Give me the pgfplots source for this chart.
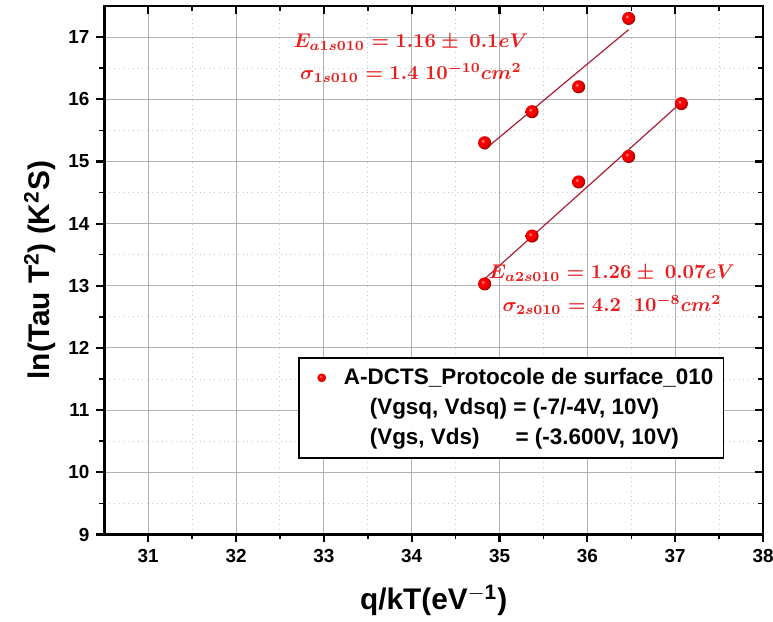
\documentclass[border=0pt]{standalone}
\usepackage{pgfplots}
\pgfplotsset{compat=1.18}
\usepackage{fontspec}
\setmainfont{Liberation Sans}

\definecolor{ptred}{RGB}{232,30,30}
\definecolor{fitred}{RGB}{170,30,50}

\pgfdeclareradialshading{redball}{\pgfqpoint{-8bp}{8bp}}{%
  color(0bp)=(red!25!white); color(7bp)=(red); color(19bp)=(red!95!black);
  color(25bp)=(red!65!black); color(50bp)=(red!65!black)}
\pgfdeclareplotmark{redball}{%
  \pgfpathcircle{\pgfpointorigin}{\pgfplotmarksize}%
  \pgfshadepath{redball}{0}%
  \pgfusepath{discard}}

\pgfplotstableread{
x y
34.83 15.30
35.37 15.80
35.90 16.20
36.47 17.30
}\datatop
\pgfplotstableread{
x y
34.83 13.03
35.37 13.80
35.90 14.67
36.47 15.08
37.07 15.93
}\databot

\begin{document}
\begin{tikzpicture}
\pgfplotsset{
  base/.style={
    scale only axis,
    width=331.5pt, height=266pt,
    xmin=30.5, xmax=38, ymin=9, ymax=17.5,
    xtick={31,...,38}, ytick={9,...,17},
    minor tick num=1,
    axis line style={line width=1.3pt},
    major tick style={line width=1.1pt, black},
    minor tick style={line width=0.8pt, black},
    major tick length=4pt, minor tick length=2.5pt,
  },
}
\begin{axis}[base, name=main,
    xtick pos=left, ytick pos=left, tick align=outside,
    grid=both,
    major grid style={gray!60, line width=0.5pt},
    minor grid style={gray!45, dotted, line width=0.5pt},
    tick label style={font=\bfseries\fontsize{9.5}{10}\selectfont},
    /pgf/number format/assume math mode=true,
    xlabel={\bfseries q/kT(eV$^{\mathbf{-1}}$)},
    ylabel={\bfseries ln(Tau T$^{\mathbf{2}}$) (K$^{\mathbf{2}}$S)},
    label style={font=\fontsize{15}{17}\selectfont},
    xlabel style={at={(axis description cs:0.5,0)}, anchor=center, yshift=-33pt},
    ylabel style={at={(axis description cs:0,0.5)}, anchor=center, yshift=32.5pt},
    legend style={at={(0.294,0.335)}, anchor=north west, draw=black,
      line width=0.8pt, font=\bfseries\fontsize{11.3}{13}\selectfont,
      row sep=1.5pt, inner sep=3pt},
    legend image post style={mark size=2.2pt},
    legend cell align=left,
]
\addplot[fitred, line width=0.6pt, forget plot] coordinates {(34.83,15.19) (36.47,17.12)};
\addplot[fitred, line width=0.6pt, forget plot] coordinates {(34.83,13.11) (37.07,15.95)};
\addplot[only marks, mark=redball, mark size=3.3pt] table {\datatop};
\addlegendentry{\hspace*{7pt}A-DCTS\_Protocole de surface\_010}
\addplot[only marks, mark=redball, mark size=3.3pt, forget plot] table {\databot};
\addlegendimage{empty legend}
\addlegendentry{\hspace*{20pt}(Vgsq, Vdsq) = (-7/-4V, 10V)}
\addlegendimage{empty legend}
\addlegendentry{\hspace*{20pt}(Vgs, Vds)\hspace{1.6em}= (-3.600V, 10V)}
\node[ptred, font=\fontsize{9.8}{11}\selectfont\boldmath] at (axis cs:33.99,16.91) {$E_{a1s010} = 1.16 \pm\ 0.1eV$};
\node[ptred, font=\fontsize{9.8}{11}\selectfont\boldmath] at (axis cs:33.99,16.43) {$\sigma_{1s010} = 1.4\;10^{-10}cm^2$};
\node[ptred, font=\fontsize{9.8}{11}\selectfont\boldmath] at (axis cs:36.28,13.20) {$E_{a2s010} = 1.26 \pm\ 0.07eV$};
\node[ptred, font=\fontsize{9.8}{11}\selectfont\boldmath] at (axis cs:36.28,12.69) {$\sigma_{2s010} = 4.2\;\;10^{-8}cm^2$};
\end{axis}
\begin{axis}[base,
    xtick pos=right, ytick pos=right, tick align=inside,
    xticklabels={}, yticklabels={},
]
\end{axis}
\pgfresetboundingbox
\path ([shift={(-52.5pt,-44pt)}]main.south west) rectangle ([shift={(5pt,3pt)}]main.north east);
\end{tikzpicture}
\end{document}
